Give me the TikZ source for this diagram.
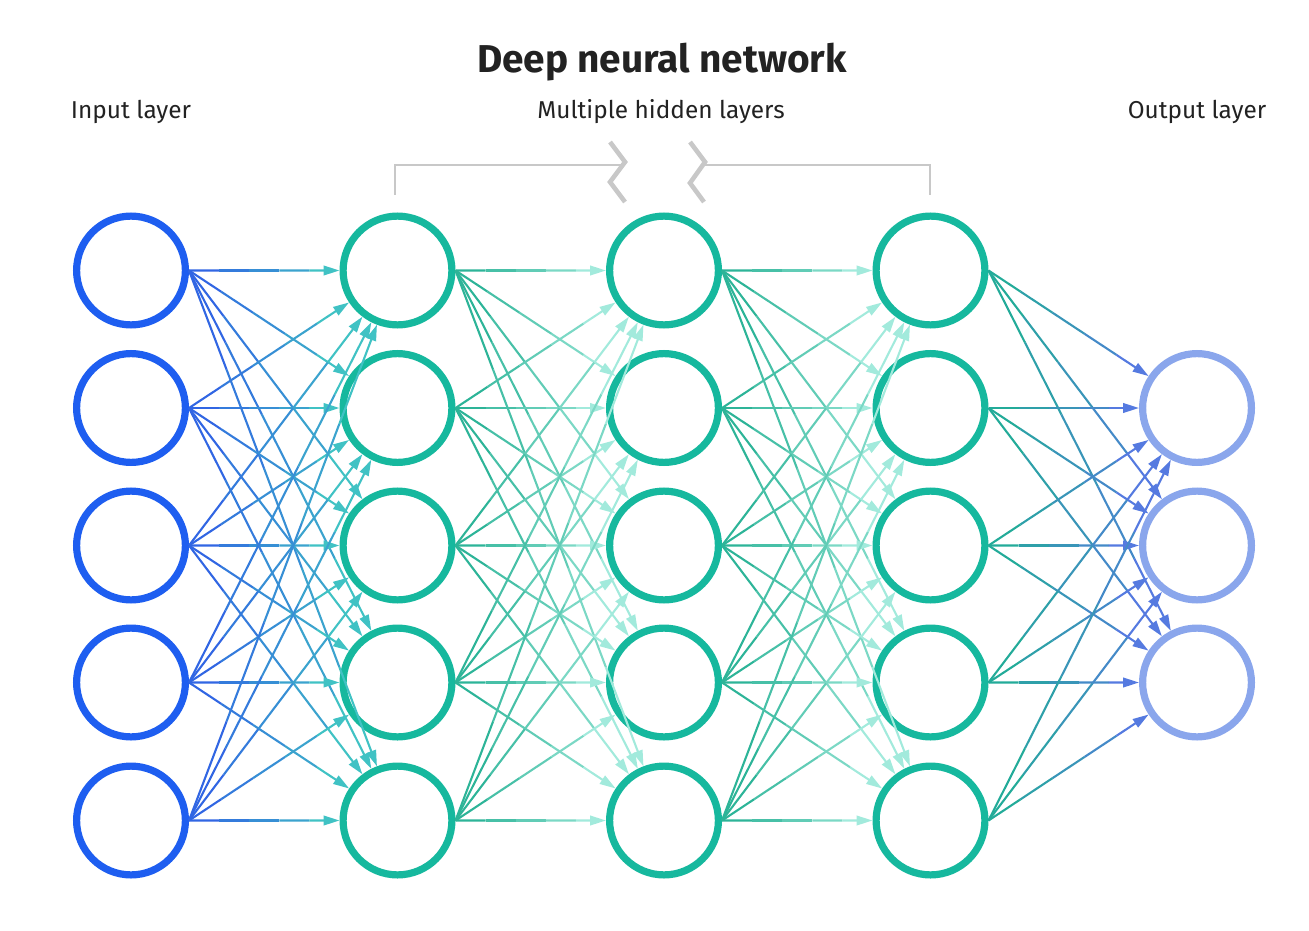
\documentclass[tikz,border=0pt]{standalone}
\usepackage{fontspec}
\setmainfont{Fira Sans}
\usetikzlibrary{arrows.meta,calc,positioning}

\definecolor{inring}{HTML}{1E5EF0}
\definecolor{hidring}{HTML}{16B89E}
\definecolor{outring}{HTML}{8AA6EC}
\definecolor{txt}{HTML}{222222}
\definecolor{brk}{HTML}{C8C8C8}
% edge colours, start / end of each layer gap
\definecolor{eAs}{HTML}{2F5CE6}
\definecolor{eAe}{HTML}{40C2C4}
\definecolor{eBs}{HTML}{20AE90}
\definecolor{eBe}{HTML}{A2EADC}
\definecolor{eCs}{HTML}{20AE90}
\definecolor{eCe}{HTML}{A2EADC}
\definecolor{eDs}{HTML}{1DB091}
\definecolor{eDe}{HTML}{557AE0}

\begin{document}
\begin{tikzpicture}[x=0.5pt, y=-0.5pt,
    neuron/.style={draw, circle, line width=3.6pt, minimum size=54.4pt, inner sep=0pt, fill=white},
    link/.style={line width=1.05pt},
    tipped/.style={-{Triangle[length=8pt, width=4.8pt]}},
    layerlabel/.style={anchor=base, text=txt, font=\fontsize{12.2}{15}\selectfont},
    bracketline/.style={draw=brk, line width=1pt},
    zigline/.style={draw=brk, line width=2.3pt}]
  \useasboundingbox (0,0) rectangle (1309,930);

  % Titel und Beschriftungen
  \node[anchor=base, text=txt, font=\fontsize{19.4}{24}\selectfont\bfseries] (title) at (662,73) {Deep neural network};
  \node[layerlabel] (lblin) at (131,119) {Input layer};
  \node[layerlabel] (lblhid) at (661,119) {Multiple hidden layers};
  \node[layerlabel] (lblout) at (1197,119) {Output layer};

  % Klammer ueber den verdeckten Schichten
  \draw[bracketline] (395,195) -- (395,165) -- (621,165);
  \draw[zigline] (610,142) -- (625,162) -- (610,182) -- (625,202);
  \draw[zigline] (690,142) -- (705,162) -- (690,183) -- (704,202);
  \draw[bracketline] (705,165) -- (930,165) -- (930,195);

  % Neuronen
  \foreach \i/\y in {1/270.5,2/408,3/545.5,4/682.5,5/820.5} {
    \node[neuron, draw=inring] (in\i) at (131,\y) {};
    \node[neuron, draw=hidring] (ha\i) at (397.5,\y) {};
    \node[neuron, draw=hidring] (hb\i) at (664,\y) {};
    \node[neuron, draw=hidring] (hc\i) at (930.5,\y) {};
  }
  \foreach \i/\y in {1/408,2/545.5,3/682.5}
    \node[neuron, draw=outring] (out\i) at (1197,\y) {};

  % Verbindungen, in Stuecken eingefaerbt
  \foreach \a/\b/\nb/\cs/\ce in {in/ha/5/eAs/eAe, ha/hb/5/eBs/eBe, hb/hc/5/eCs/eCe, hc/out/3/eDs/eDe}
    \foreach \i in {1,...,5}
      \foreach \j in {1,...,\nb} {
        \coordinate (tip) at ($(\b\j)!29pt!(\a\i.east)$);
        \foreach \k in {0,...,3} {
          \pgfmathsetmacro\fa{\k*0.2}
          \pgfmathsetmacro\fb{(\k+1)*0.2}
          \pgfmathtruncatemacro\p{20*\k+10}
          \draw[link, draw=\ce!\p!\cs] ($(\a\i.east)!\fa!(tip)$) -- ($(\a\i.east)!\fb!(tip)$);
        }
        \draw[link, tipped, draw=\ce, fill=\ce] ($(\a\i.east)!0.8!(tip)$) -- (tip);
      }
\end{tikzpicture}
\end{document}
